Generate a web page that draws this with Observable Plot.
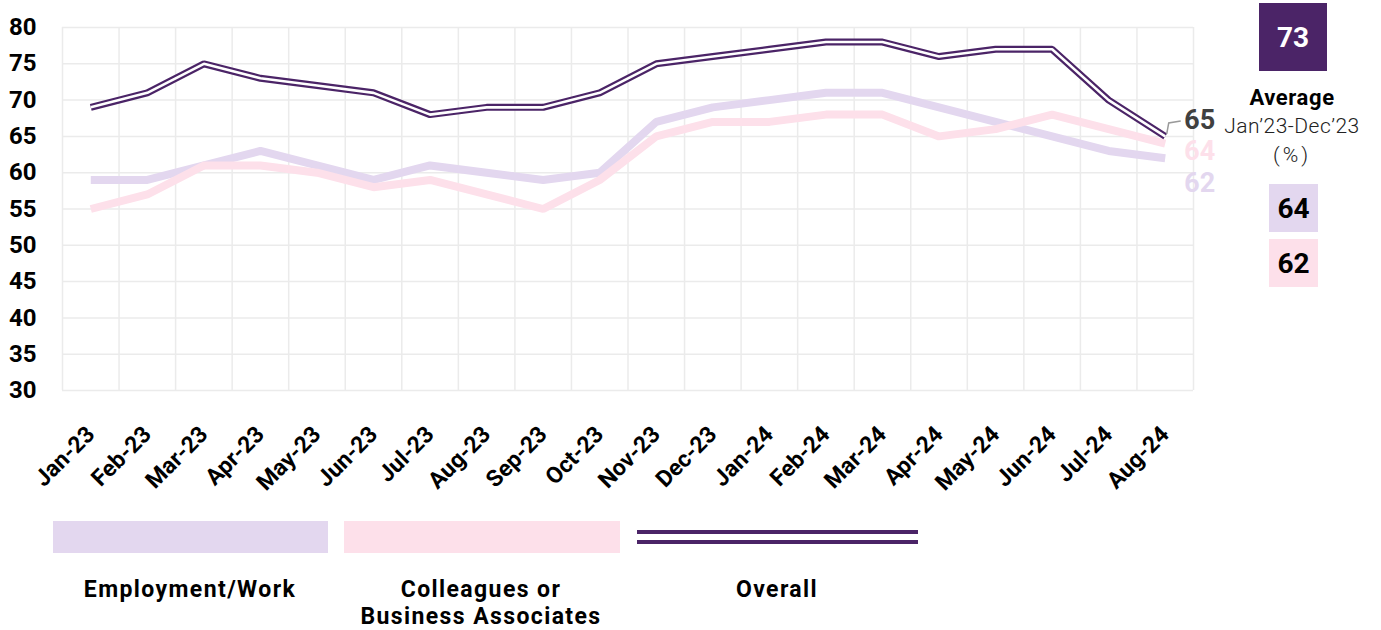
<!DOCTYPE html>
<html><head><meta charset="utf-8">
<script src="https://cdn.jsdelivr.net/npm/d3@7"></script>
<script src="https://cdn.jsdelivr.net/npm/@observablehq/plot@0.6"></script>
<style>
body{margin:0;background:#fff;font-family:Roboto, sans-serif;}
#wrap{position:relative;width:1381px;height:630px;overflow:hidden;}
#chart{position:absolute;left:0;top:0;}
.abs{position:absolute;}
.box{display:flex;align-items:center;justify-content:center;font-weight:700;font-size:28px;}
.ptxt{left:1192px;width:200px;text-align:center;color:#000;font-size:20px;line-height:28px;}
.leglbl{font-weight:700;font-size:23px;letter-spacing:1.4px;color:#000;text-align:center;line-height:27px;width:320px;}
</style></head><body>
<div id="wrap"><div id="chart"></div><div id="panel"></div><div id="legend"></div></div>
<script>
const months = ["Jan-23","Feb-23","Mar-23","Apr-23","May-23","Jun-23","Jul-23","Aug-23","Sep-23","Oct-23","Nov-23","Dec-23","Jan-24","Feb-24","Mar-24","Apr-24","May-24","Jun-24","Jul-24","Aug-24"];
const overall    = [69,71,75,73,72,71,68,69,69,71,75,76,77,78,78,76,77,77,70,65];
const employment = [59,59,61,63,61,59,61,60,59,60,67,69,70,71,71,69,67,65,63,62];
const colleagues = [55,57,61,61,60,58,59,57,55,59,65,67,67,68,68,65,66,68,66,64];
const yTicks = [30,35,40,45,50,55,60,65,70,75,80];
const seriesNames = ["Employment/Work","Colleagues or<br>Business Associates","Overall"];
const averageValues = [64,62,73]; // employment, colleagues, overall
const averageTitle = ["Average","Jan’23-Dec’23","(%)"];

const C_EMP = "#e3d7ef", C_COL = "#fde0ea", C_OV = "#4b2467";

const data = months.map((m,i)=>({i, month:m, overall:overall[i], employment:employment[i], colleagues:colleagues[i]}));
const last = data[data.length-1];

function leader(index, scales){
  const x0 = scales.x(last.i), y0 = scales.y(last.overall);
  return d3.create("svg:path")
    .attr("d", `M${x0+2},${y0-2}L${x0+4},${y0-13}L${x0+16},${y0-15}`)
    .attr("fill","none").attr("stroke","#9a9a9a").attr("stroke-width",1.5).node();
}

const plot = Plot.plot({
  width:1381, height:500, marginLeft:62, marginRight:188, marginTop:27, marginBottom:110,
  style:{fontFamily:"Roboto, sans-serif", background:"transparent", overflow:"visible"},
  x:{domain:[-0.5, months.length-0.5], axis:null},
  y:{domain:[30,80], axis:null},
  marks:[
    Plot.gridY(yTicks, {stroke:"#ebebeb", strokeOpacity:1, strokeWidth:1.5}),
    Plot.gridX(d3.range(-0.5, months.length, 1), {stroke:"#ebebeb", strokeOpacity:1, strokeWidth:1.5}),
    Plot.axisY(yTicks, {tickSize:0, tickPadding:26, fontSize:24, fontWeight:700, fill:"#000", label:null}),
    Plot.axisX(d3.range(months.length), {tickFormat:i=>months[i], tickRotate:-45, tickSize:0, tickPadding:40, fontSize:23, fontWeight:700, fill:"#000", label:null}),
    Plot.line(data,{x:"i",y:"employment",stroke:C_EMP,strokeWidth:8,strokeLinejoin:"miter",strokeLinecap:"butt"}),
    Plot.line(data,{x:"i",y:"colleagues",stroke:C_COL,strokeWidth:8,strokeLinejoin:"miter",strokeLinecap:"butt"}),
    Plot.line(data,{x:"i",y:"overall",stroke:C_OV,strokeWidth:7,strokeLinejoin:"miter",strokeLinecap:"butt"}),
    Plot.line(data,{x:"i",y:"overall",stroke:"#fff",strokeWidth:2.6,strokeLinejoin:"miter",strokeLinecap:"butt"}),
    leader,
    Plot.text([last], {x:"i", y:"overall", text:d=>d.overall, dx:19, dy:-16, textAnchor:"start", fontSize:27, fontWeight:700, fill:"#404040"}),
    Plot.text([last], {x:"i", y:"colleagues", text:d=>d.colleagues, dx:19, dy:8, textAnchor:"start", fontSize:27, fontWeight:700, fill:C_COL}),
    Plot.text([last], {x:"i", y:"employment", text:d=>d.employment, dx:19, dy:25, textAnchor:"start", fontSize:27, fontWeight:700, fill:C_EMP})
  ]
});
document.getElementById("chart").appendChild(plot);

// right panel
const panel = document.getElementById("panel");
panel.innerHTML = `
 <div class="abs box" style="left:1259px;top:3px;width:68px;height:68px;background:${C_OV};color:#fff;">${averageValues[2]}</div>
 <div class="abs ptxt" style="top:84px;font-weight:700;font-size:22px;letter-spacing:0.6px;">${averageTitle[0]}</div>
 <div class="abs ptxt" style="top:112px;color:#222;font-weight:300;font-size:21px;letter-spacing:0.5px;">${averageTitle[1]}</div>
 <div class="abs ptxt" style="top:141px;color:#222;font-weight:300;font-size:21px;letter-spacing:3px;">${averageTitle[2]}</div>
 <div class="abs box" style="left:1269px;top:184px;width:49px;height:48px;background:${C_EMP};color:#000;">${averageValues[0]}</div>
 <div class="abs box" style="left:1269px;top:239px;width:49px;height:48px;background:${C_COL};color:#000;">${averageValues[1]}</div>`;

// legend
const legend = document.getElementById("legend");
legend.innerHTML = `
 <div class="abs" style="left:53px;top:521px;width:275px;height:32px;background:${C_EMP};"></div>
 <div class="abs" style="left:344px;top:521px;width:276px;height:32px;background:${C_COL};"></div>
 <div class="abs" style="left:637px;top:530px;width:281px;height:4.3px;background:${C_OV};"></div>
 <div class="abs" style="left:637px;top:540px;width:281px;height:4.3px;background:${C_OV};"></div>
 <div class="abs leglbl" style="left:30px;top:576px;">${seriesNames[0]}</div>
 <div class="abs leglbl" style="left:321px;top:576px;">${seriesNames[1]}</div>
 <div class="abs leglbl" style="left:617px;top:576px;">${seriesNames[2]}</div>`;
</script>
</body></html>
